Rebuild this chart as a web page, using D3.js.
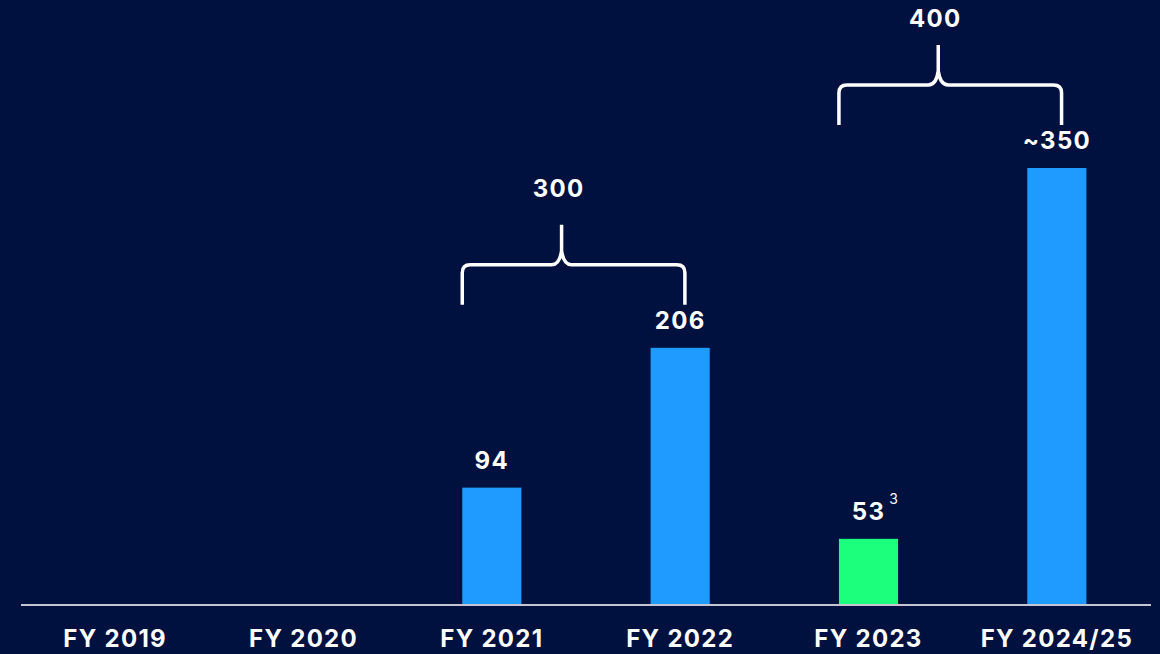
<!DOCTYPE html>
<html>
<head>
<meta charset="utf-8">
<script src="https://cdn.jsdelivr.net/npm/d3@7"></script>
<style>
  html, body { margin: 0; padding: 0; background: #00103f; }
  svg { display: block; }
</style>
</head>
<body>
<svg id="chart" width="1160" height="654"></svg>
<script>
// Fiscal years and values
const categories = ["FY 2019", "FY 2020", "FY 2021", "FY 2022", "FY 2023", "FY 2024/25"];
const values = [null, null, 94, 206, 53, 350];
const valueLabels = ["", "", "94", "206", "53", "~350"];
const footnotes = ["", "", "", "", "3", ""];
const barKinds = ["actual", "actual", "actual", "actual", "current", "actual"];
// Grouped totals shown with braces
const groupFrom = ["FY 2021", "FY 2023"];
const groupTo = ["FY 2022", "FY 2024/25"];
const groupTotals = ["300", "400"];

const W = 1160, H = 654;
const baseY = 605;
const colors = { actual: "#1f9bff", current: "#1cff7c" };
const font = "Inter, 'Open Sans', sans-serif";
const fontSize = 24;
const spacing = 1.3;

const svg = d3.select("#chart");

const x = d3.scaleBand()
  .domain(categories)
  .range([21, 1151])
  .paddingInner(0.686)
  .paddingOuter(0.343);

const y = d3.scaleLinear()
  .domain([0, 350])
  .range([baseY, baseY - 437]);

const bw = x.bandwidth();
const data = categories.map((c, i) => ({ c, v: values[i], label: valueLabels[i], note: footnotes[i], kind: barKinds[i] }));

function boldText(sel) {
  return sel.attr("fill", "#ffffff")
    .attr("font-family", font)
    .attr("font-weight", 700)
    .attr("font-size", fontSize)
    .attr("letter-spacing", spacing);
}

// Bars
svg.append("g").selectAll("rect")
  .data(data.filter(d => d.v != null))
  .join("rect")
  .attr("x", d => x(d.c))
  .attr("y", d => y(d.v))
  .attr("width", bw)
  .attr("height", d => baseY - y(d.v))
  .attr("fill", d => colors[d.kind]);

// Baseline axis
const axis = d3.axisBottom(x).tickSize(0).tickPadding(0);
const gAxis = svg.append("g").attr("transform", `translate(0,${baseY})`).call(axis);
gAxis.select(".domain").attr("stroke", "#c3c6d2").attr("stroke-width", 2)
  .attr("d", `M${x.range()[0]},0H${x.range()[1]}`);
boldText(gAxis.selectAll(".tick text"))
  .attr("y", 42)
  .attr("dy", 0);

// Value labels
const lab = svg.append("g").selectAll("g")
  .data(data.filter(d => d.v != null))
  .join("g");
boldText(lab.append("text"))
  .attr("x", d => x(d.c) + bw / 2)
  .attr("y", d => y(d.v) - 19)
  .attr("text-anchor", "middle")
  .text(d => d.label);
lab.filter(d => d.note).append("text")
  .attr("x", d => x(d.c) + bw / 2 + 25)
  .attr("y", d => y(d.v) - 35)
  .attr("text-anchor", "middle")
  .attr("fill", "#ffffff")
  .attr("font-family", font)
  .attr("font-weight", 400)
  .attr("font-size", 14)
  .text(d => d.note);

// Curly braces over grouped years
function bracePath(x0, x1, xm, yb, yh, yt) {
  const r = 8;
  return `M${x0},${yb} L${x0},${yh + r} Q${x0},${yh} ${x0 + r},${yh} ` +
    `L${xm - 10},${yh} Q${xm - 2},${yh} ${xm},${yh - 14} L${xm},${yt} ` +
    `M${xm},${yh - 14} Q${xm + 2},${yh} ${xm + 10},${yh} ` +
    `L${x1 - r},${yh} Q${x1},${yh} ${x1},${yh + r} L${x1},${yb}`;
}
const braces = svg.append("g");
groupFrom.forEach((from, i) => {
  const to = groupTo[i];
  const vTo = values[categories.indexOf(to)];
  const x0 = x(from);
  const x1 = x(to) + bw * 0.58;
  const xm = (x0 + x1) / 2 - 12;
  const yb = y(vTo) - 43;
  const yh = yb - 40;
  const yt = yh - 40;
  braces.append("path")
    .attr("d", bracePath(x0, x1, xm, yb, yh, yt))
    .attr("fill", "none")
    .attr("stroke", "#ffffff")
    .attr("stroke-width", 3.5)
    .attr("stroke-linecap", "butt");
  boldText(braces.append("text"))
    .attr("x", xm - 3)
    .attr("y", Math.max(yt - 28, 27))
    .attr("text-anchor", "middle")
    .text(groupTotals[i]);
});
</script>
</body>
</html>
